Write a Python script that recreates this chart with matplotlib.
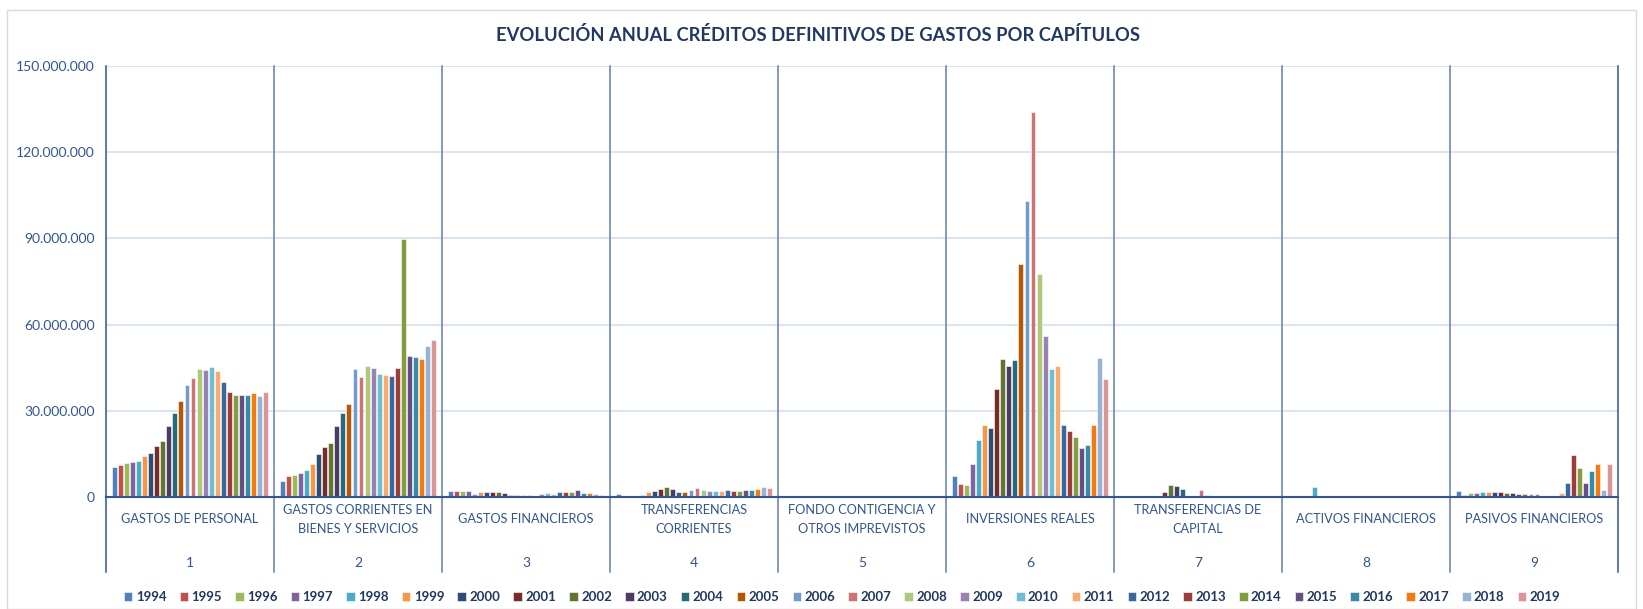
import matplotlib
matplotlib.use('Agg')
import matplotlib.pyplot as plt
import matplotlib.patches as mpatches
from matplotlib.ticker import FuncFormatter, MultipleLocator

plt.rcParams['font.family'] = ['Lato', 'DejaVu Sans']

years = list(range(1994, 2020))
chapter_numbers = ['1', '2', '3', '4', '5', '6', '7', '8', '9']
chapter_names = [
  'GASTOS DE PERSONAL',
  'GASTOS CORRIENTES EN\nBIENES Y SERVICIOS',
  'GASTOS FINANCIEROS',
  'TRANSFERENCIAS\nCORRIENTES',
  'FONDO CONTIGENCIA Y\nOTROS IMPREVISTOS',
  'INVERSIONES REALES',
  'TRANSFERENCIAS DE\nCAPITAL',
  'ACTIVOS FINANCIEROS',
  'PASIVOS FINANCIEROS',
]

# millions of euros, one value per year 1994..2019
cap1 = [10.4, 11.3, 11.9, 12.1, 12.6, 14.4, 15.3, 17.6, 19.6, 24.8, 29.4, 33.5, 39.1,
        41.4, 44.7, 44.3, 45.2, 43.7, 40.0, 36.7, 35.5, 35.5, 35.6, 36.1, 35.0, 36.4]
cap2 = [5.6, 7.4, 7.8, 8.2, 9.3, 11.6, 14.8, 17.5, 18.7, 24.6, 29.4, 32.5, 44.5,
        41.6, 45.7, 44.8, 42.9, 42.3, 42.2, 44.8, 89.7, 49.0, 48.8, 48.1, 52.7, 54.5]
cap3 = [2.1, 2.1, 2.1, 2.0, 1.0, 1.9, 1.9, 1.9, 1.6, 1.5, 0.6, 0.6, 0.6,
        0.6, 0.2, 1.2, 1.5, 0.9, 1.9, 1.9, 1.9, 2.3, 1.5, 1.3, 0.9, 0.8]
cap4 = [0.9, 0.2, 0.2, 0.2, 0.8, 1.6, 2.1, 2.8, 3.4, 2.9, 1.6, 1.7, 2.6,
        3.2, 2.4, 2.1, 2.2, 2.2, 2.6, 2.2, 2.2, 2.3, 2.6, 2.9, 3.6, 3.2]
cap5 = [0.0] * 26
cap6 = [7.3, 4.4, 4.1, 11.6, 20.0, 24.9, 23.9, 37.7, 47.9, 45.5, 47.8, 81.0, 102.9,
        134.0, 77.7, 55.9, 44.4, 45.6, 25.1, 22.9, 20.8, 17.2, 18.2, 25.2, 48.5, 41.2]
cap7 = [0.1, 0.1, 0.1, 0.1, 0.2, 0.3, 0.1, 1.9, 4.1, 3.7, 2.9, 0.3, 0.5,
        2.4, 0.6, 0.2, 0.2, 0.2, 0.2, 0.2, 0.1, 0.1, 0.1, 0.1, 0.1, 0.1]
cap8 = [0.05, 0.05, 0.05, 0.05, 3.5, 0.1, 0.1, 0.1, 0.1, 0.2, 0.2, 0.2, 0.2,
        0.2, 0.2, 0.2, 0.2, 0.4, 0.3, 0.3, 0.3, 0.3, 0.3, 0.3, 0.3, 0.3]
cap9 = [2.2, 0.8, 1.3, 1.3, 1.6, 1.6, 1.6, 1.6, 1.3, 1.3, 0.9, 0.9, 0.9,
        0.9, 0.1, 0.1, 0.1, 1.3, 4.8, 14.6, 10.2, 4.8, 9.2, 11.5, 2.3, 11.4]
chapters = [cap1, cap2, cap3, cap4, cap5, cap6, cap7, cap8, cap9]

year_colors = [
  '#4F81BD', '#C0504D', '#9BBB59', '#8064A2', '#4BACC6', '#F79646',
  '#2C4D75', '#772C2A', '#5F7530', '#4D3B62', '#276A7C', '#B65708',
  '#729ACA', '#CD7371', '#AFC97A', '#9983B5', '#6FBDD1', '#F9AB6B',
  '#3A679C', '#9F3B38', '#809D3F', '#664F83', '#358DA5', '#F57A0D',
  '#95B3D7', '#D99694',
]

navy = '#1F3864'
axis_blue = '#2F5597'

fig = plt.figure(figsize=(16.43, 6.09), dpi=100)
ax = fig.add_axes([106 / 1643, 1 - 497 / 609, (1618 - 106) / 1643, (497 - 66) / 609])

n_years = len(years)
slot = 0.934 / n_years
for j, year in enumerate(years):
  xs = [i + 0.5 + (j - (n_years - 1) / 2) * slot for i in range(len(chapters))]
  hs = [chapters[i][j] * 1e6 for i in range(len(chapters))]
  ax.bar(xs, hs, width=slot * 0.82, color=year_colors[j], edgecolor='white',
         linewidth=0.4, label=str(year), zorder=3)

ax.set_xlim(0, len(chapters))
ax.set_ylim(0, 150e6)
ax.yaxis.set_major_locator(MultipleLocator(30e6))
ax.yaxis.set_major_formatter(FuncFormatter(lambda v, p: f'{int(v):,}'.replace(',', '.')))
ax.tick_params(axis='y', length=0, labelsize=10, labelcolor=axis_blue, pad=8)
ax.grid(axis='y', color='#D6E2F5', linewidth=1.3, zorder=0)
ax.set_xticks([])

for s in ['top', 'right', 'left']:
  ax.spines[s].set_visible(False)
ax.spines['bottom'].set_color(axis_blue)
ax.spines['bottom'].set_linewidth(1.5)
ax.spines['bottom'].set_zorder(4)

# group dividers, running through the plot and down past the labels
for i in range(len(chapters) + 1):
  col = '#2F5597' if i in (0, 9) else '#5F7FB0'
  ax.plot([i, i], [1, -0.175], transform=ax.get_xaxis_transform(), color=col,
          linewidth=1.1, clip_on=False, zorder=2)

for i, (num, name) in enumerate(zip(chapter_numbers, chapter_names)):
  ax.text(i + 0.5, -0.052, name, transform=ax.get_xaxis_transform(), ha='center',
          va='center', fontsize=9.2, color=axis_blue, linespacing=1.75)
  ax.text(i + 0.5, -0.154, num, transform=ax.get_xaxis_transform(), ha='center',
          va='center', fontsize=10, color=axis_blue)

fig.text(818 / 1643, 1 - 35 / 609,
         'EVOLUCIÓN ANUAL CRÉDITOS DEFINITIVOS DE GASTOS POR CAPÍTULOS',
         ha='center', va='center', fontsize=13.2, fontweight='bold', color=navy)

handles, labels = ax.get_legend_handles_labels()
leg = fig.legend(handles, labels, loc='center', bbox_to_anchor=(842 / 1643, 1 - 597 / 609),
                 ncol=26, frameon=False, fontsize=9.5, handlelength=0.65, handleheight=0.65,
                 handletextpad=0.25, columnspacing=1.0)
for t in leg.get_texts():
  t.set_color(navy)
  t.set_fontweight('bold')

fig.patches.append(mpatches.Rectangle((7 / 1643, 0.0), 1 - 14 / 1643, 1 - 10 / 609,
                                      transform=fig.transFigure, fill=False,
                                      edgecolor='#D9D9D9', linewidth=1.0))

fig.savefig('out.png', dpi=100)
